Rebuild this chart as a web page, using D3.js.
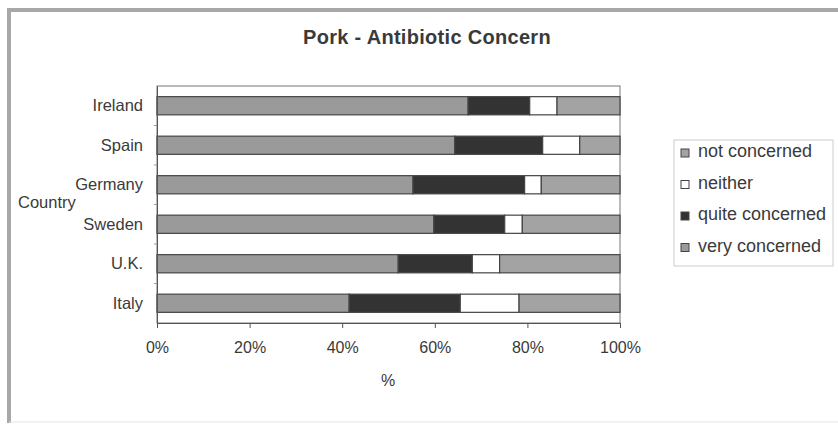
<!DOCTYPE html>
<html>
<head>
<meta charset="utf-8">
<script src="https://cdn.jsdelivr.net/npm/d3@7"></script>
<style>
  body { margin: 0; background: #fff; }
  svg text { font-family: "Liberation Sans", Arial, sans-serif; fill: #3a3a3a; }
</style>
</head>
<body>
<div id="chart-area"></div>
<script>
const countries = ["Ireland", "Spain", "Germany", "Sweden", "U.K.", "Italy"];
// series left to right in each bar
const veryConcerned = [67.2, 64.3, 55.3, 59.8, 52.1, 41.5];
const quiteConcerned = [13.3, 19.0, 24.1, 15.3, 16.0, 24.0];
const neither = [5.9, 8.0, 3.6, 3.8, 5.9, 12.7];
const notConcerned = [13.6, 8.7, 17.0, 21.1, 26.0, 21.8];
const xTicks = [0, 20, 40, 60, 80, 100];

const seriesNames = ["very concerned", "quite concerned", "neither", "not concerned"];
const seriesValues = [veryConcerned, quiteConcerned, neither, notConcerned];
const colors = { "very concerned": "#9a9a9a", "quite concerned": "#333333", "neither": "#ffffff", "not concerned": "#a3a3a3" };

const margin = { left: 157, top: 86 },
    width = 463,
    height = 237;

const svg = d3.select("#chart-area").append("svg")
    .attr("width", 838).attr("height", 425);

// outer frame
svg.append("path")
    .attr("d", "M9,423 V10 H838")
    .attr("fill", "none").attr("stroke", "#a8a8a8").attr("stroke-width", 4);
svg.append("line")
    .attr("x1", 9).attr("x2", 838).attr("y1", 422).attr("y2", 422)
    .attr("stroke", "#e4e4e4").attr("stroke-width", 1);

svg.append("text")
    .attr("x", 427).attr("y", 44)
    .attr("text-anchor", "middle")
    .attr("font-size", "20px").attr("font-weight", "bold")
    .attr("letter-spacing", "0.3px")
    .text("Pork - Antibiotic Concern");

const g = svg.append("g").attr("transform", `translate(${margin.left}, ${margin.top})`);

const x = d3.scaleLinear().domain([0, 100]).range([0, width]);
const y = d3.scaleBand().domain(countries).range([0, height]).paddingInner(0.54).paddingOuter(0.27);

// plot area border
g.append("rect")
    .attr("width", width).attr("height", height)
    .attr("fill", "#fff").attr("stroke", "#777").attr("stroke-width", 1);

const rows = countries.map((c, i) => {
    const r = { country: c };
    seriesNames.forEach((s, j) => { r[s] = seriesValues[j][i]; });
    return r;
});
const stacked = d3.stack().keys(seriesNames)(rows);

g.selectAll(".series")
    .data(stacked)
    .enter().append("g")
    .attr("class", "series")
    .attr("fill", d => colors[d.key])
    .selectAll("rect")
    .data(d => d)
    .enter().append("rect")
    .attr("x", d => x(d[0]))
    .attr("width", d => x(d[1]) - x(d[0]))
    .attr("y", d => y(d.data.country))
    .attr("height", y.bandwidth())
    .attr("stroke", "#444").attr("stroke-width", 1.2);

const fnt = "Liberation Sans, Arial, sans-serif";

// x axis
const xAxis = g.append("g")
    .attr("transform", `translate(0, ${height})`)
    .call(d3.axisBottom(x).tickValues(xTicks).tickFormat(d => d + "%").tickSize(5).tickPadding(14));
xAxis.select(".domain").attr("stroke", "#555");
xAxis.selectAll(".tick line").attr("stroke", "#555");
xAxis.selectAll("text").attr("font-size", "16px").attr("fill", "#3a3a3a").attr("font-family", fnt);

// y axis
const yAxis = g.append("g")
    .call(d3.axisLeft(y).tickSize(0).tickPadding(14));
yAxis.select(".domain").attr("stroke", "#555");
yAxis.selectAll("text").attr("font-size", "16.5px").attr("fill", "#3a3a3a").attr("font-family", fnt);
// small ticks between categories
g.selectAll(".ytick")
    .data(d3.range(1, countries.length))
    .enter().append("line")
    .attr("x1", -3).attr("x2", 0)
    .attr("y1", i => i * y.step() + y.paddingOuter() * y.step() - y.paddingInner() * y.step() / 2)
    .attr("y2", i => i * y.step() + y.paddingOuter() * y.step() - y.paddingInner() * y.step() / 2)
    .attr("stroke", "#999");

svg.append("text")
    .attr("x", 18).attr("y", 208)
    .attr("font-size", "16.5px")
    .text("Country");

svg.append("text")
    .attr("x", 388).attr("y", 386)
    .attr("text-anchor", "middle")
    .attr("font-size", "16px")
    .text("%");

// legend (listed in reverse of stacking order)
const legend = svg.append("g").attr("transform", "translate(674, 140)");
legend.append("rect")
    .attr("width", 159).attr("height", 126)
    .attr("fill", "#fff").attr("stroke", "#ccc");
const legendItems = seriesNames.slice().reverse();
legendItems.forEach((s, i) => {
    const ly = 17 + i * 31.5;
    legend.append("rect")
        .attr("x", 7).attr("y", ly - 8).attr("width", 8).attr("height", 8)
        .attr("fill", colors[s]).attr("stroke", "#444");
    legend.append("text")
        .attr("x", 24).attr("y", ly)
        .attr("font-size", "18px")
        .text(s);
});
</script>
</body>
</html>
